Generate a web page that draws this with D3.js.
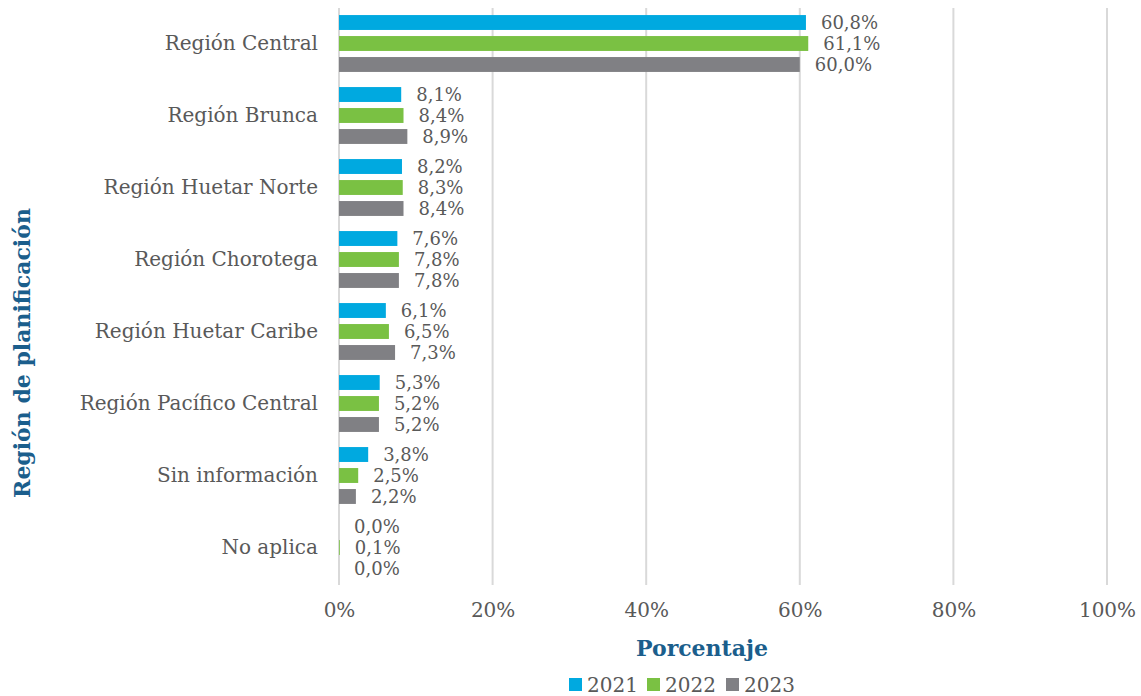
<!DOCTYPE html>
<html>
<head>
<meta charset="utf-8">
<script src="https://cdn.jsdelivr.net/npm/d3@7/dist/d3.min.js"></script>
<style>
  body { margin: 0; background: #fff; }
  text { font-family: "DejaVu Serif", serif; }
</style>
</head>
<body>
<svg id="chart" width="1141" height="696"></svg>
<script>
var regions = ["Región Central", "Región Brunca", "Región Huetar Norte", "Región Chorotega",
               "Región Huetar Caribe", "Región Pacífico Central", "Sin información", "No aplica"];
var years = ["2021", "2022", "2023"];
var values2021 = [60.8, 8.1, 8.2, 7.6, 6.1, 5.3, 3.8, 0.0];
var values2022 = [61.1, 8.4, 8.3, 7.8, 6.5, 5.2, 2.5, 0.1];
var values2023 = [60.0, 8.9, 8.4, 7.8, 7.3, 5.2, 2.2, 0.0];
var xTicks = [0, 20, 40, 60, 80, 100];

var colors = {"2021": "#00a9e0", "2022": "#7ac143", "2023": "#808084"};
var textColor = "#595959";
var titleColor = "#1b5e8c";

var seriesByYear = {"2021": values2021, "2022": values2022, "2023": values2023};

var svg = d3.select("#chart");

var x = d3.scaleLinear().domain([0, 100]).range([339, 1107]);
var y = d3.scaleBand().domain(regions).range([7.5, 583.5]).paddingInner(0.21).paddingOuter(0.105);
var ySub = d3.scaleBand().domain(years).range([0, y.bandwidth()]).paddingInner(0.29);

// gridlines
svg.append("g").selectAll("line")
    .data(xTicks)
    .enter().append("line")
    .attr("x1", function(d) { return x(d); })
    .attr("x2", function(d) { return x(d); })
    .attr("y1", 8)
    .attr("y2", 585)
    .style("stroke", "#d9d9d9")
    .style("stroke-width", 2);

// x axis labels
var xAxis = d3.axisBottom(x).tickValues(xTicks).tickSize(0).tickPadding(0)
    .tickFormat(function(d) { return d + "%"; });
var xg = svg.append("g").attr("transform", "translate(0,603)").call(xAxis);
xg.select(".domain").remove();
xg.selectAll("text")
    .style("font-family", "DejaVu Serif")
    .style("font-size", "20px")
    .style("fill", textColor);

// y axis labels
var yAxis = d3.axisLeft(y).tickSize(0).tickPadding(21);
var yg = svg.append("g").attr("transform", "translate(339,0)").call(yAxis);
yg.select(".domain").remove();
yg.selectAll("text")
    .style("font-family", "DejaVu Serif")
    .style("font-size", "20px")
    .style("fill", textColor);

// bars
var rows = regions.map(function(r, i) {
    return {region: r, vals: years.map(function(yr) { return {year: yr, value: seriesByYear[yr][i]}; })};
});

var group = svg.append("g").selectAll("g.row")
    .data(rows)
    .enter().append("g")
    .attr("class", "row")
    .attr("transform", function(d) { return "translate(0," + y(d.region) + ")"; });

group.selectAll("rect")
    .data(function(d) { return d.vals; })
    .enter().append("rect")
    .attr("x", x(0))
    .attr("y", function(d) { return ySub(d.year); })
    .attr("width", function(d) { return x(d.value) - x(0); })
    .attr("height", ySub.bandwidth())
    .style("fill", function(d) { return colors[d.year]; });

group.selectAll("text.lbl")
    .data(function(d) { return d.vals; })
    .enter().append("text")
    .attr("class", "lbl")
    .attr("x", function(d) { return x(d.value) + 15; })
    .attr("y", function(d) { return ySub(d.year) + ySub.bandwidth() / 2; })
    .attr("dy", "0.36em")
    .style("font-size", "18px")
    .style("fill", textColor)
    .text(function(d) { return d.value.toFixed(1).replace(".", ",") + "%"; });

// axis titles
svg.append("text")
    .attr("x", 702)
    .attr("y", 656)
    .attr("text-anchor", "middle")
    .style("font-size", "22px")
    .style("font-weight", "bold")
    .style("fill", titleColor)
    .text("Porcentaje");

svg.append("text")
    .attr("transform", "translate(30,353) rotate(-90)")
    .attr("text-anchor", "middle")
    .style("font-size", "22px")
    .style("font-weight", "bold")
    .style("fill", titleColor)
    .text("Región de planificación");

// legend
var legendX = [569, 647, 726];
var legend = svg.append("g").selectAll("g.leg")
    .data(years)
    .enter().append("g")
    .attr("class", "leg")
    .attr("transform", function(d, i) { return "translate(" + legendX[i] + ",678)"; });

legend.append("rect")
    .attr("width", 13)
    .attr("height", 13)
    .style("fill", function(d) { return colors[d]; });

legend.append("text")
    .attr("x", 18)
    .attr("y", 6.5)
    .attr("dy", "0.36em")
    .style("font-size", "20px")
    .style("fill", textColor)
    .text(function(d) { return d; });
</script>
</body>
</html>
